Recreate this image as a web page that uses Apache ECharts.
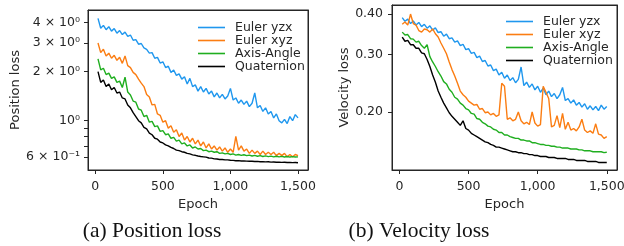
<!DOCTYPE html>
<html>
<head>
<meta charset="utf-8">
<script src="https://cdn.jsdelivr.net/npm/echarts@6/dist/echarts.min.js"></script>
<style>
  html, body { margin: 0; padding: 0; background: #fff; }
  #chart { width: 624px; height: 246px; }
</style>
</head>
<body>
<div id="chart"></div>
<script>
// epochs sampled every 20
const epochs = [20,40,60,80,100,120,140,160,180,200,220,240,260,280,300,320,340,360,380,400,
  420,440,460,480,500,520,540,560,580,600,620,640,660,680,700,720,740,760,780,800,
  820,840,860,880,900,920,940,960,980,1000,1020,1040,1060,1080,1100,1120,1140,1160,1180,1200,
  1220,1240,1260,1280,1300,1320,1340,1360,1380,1400,1420,1440,1460,1480,1500]

const names = ['Euler yzx', 'Euler xyz', 'Axis-Angle', 'Quaternion']

// (a) position loss
const posYzx = [4.25,3.7,3.85,3.62,3.78,3.55,3.68,3.45,3.58,3.38,
  3.5,3.3,3.36,3.12,3.15,2.95,2.98,2.8,2.74,2.6,
  2.62,2.42,2.45,2.26,2.3,2.12,2.16,1.98,2.05,1.9,
  1.94,1.8,1.86,1.68,1.82,1.62,1.66,1.52,1.62,1.5,
  1.58,1.46,1.52,1.4,1.48,1.38,1.45,1.36,1.42,1.58,
  1.34,1.38,1.28,1.34,1.26,1.32,1.22,1.28,1.48,1.2,
  1.24,1.14,1.2,1.1,1.14,1.04,1.1,1.0,0.97,1.02,
  0.96,1.06,1.0,1.09,1.04]
const posXyz = [3.0,2.62,2.75,2.5,2.6,2.42,2.52,2.35,2.45,2.25,
  2.5,2.18,2.12,1.98,1.92,1.8,1.7,1.62,1.45,1.4,
  1.25,1.26,1.1,1.08,0.98,1.0,0.9,0.93,0.85,0.88,
  0.8,0.84,0.76,0.8,0.74,0.78,0.72,0.76,0.7,0.74,
  0.68,0.72,0.67,0.7,0.66,0.69,0.65,0.68,0.64,0.67,
  0.64,0.8,0.66,0.7,0.65,0.67,0.63,0.66,0.63,0.65,
  0.62,0.65,0.62,0.64,0.62,0.64,0.61,0.63,0.61,0.63,
  0.6,0.62,0.6,0.62,0.61]
const posAxis = [2.4,2.05,2.1,1.92,1.96,1.82,1.86,1.72,1.75,1.6,
  1.85,1.5,1.44,1.32,1.3,1.18,1.16,1.06,1.08,0.98,
  0.99,0.92,0.93,0.86,0.87,0.82,0.83,0.78,0.79,0.75,
  0.76,0.72,0.73,0.7,0.71,0.68,0.69,0.67,0.675,0.655,
  0.66,0.645,0.65,0.64,0.645,0.63,0.635,0.625,0.63,0.62,
  0.625,0.615,0.62,0.612,0.618,0.61,0.615,0.607,0.612,0.605,
  0.61,0.603,0.608,0.602,0.606,0.6,0.605,0.6,0.604,0.599,
  0.603,0.598,0.602,0.598,0.6]
const posQuat = [2.0,1.72,1.78,1.62,1.68,1.55,1.6,1.48,1.5,1.38,
  1.36,1.25,1.2,1.12,1.06,1.0,0.97,0.91,0.89,0.84,
  0.82,0.78,0.77,0.74,0.73,0.71,0.7,0.685,0.675,0.66,
  0.655,0.645,0.64,0.63,0.625,0.617,0.613,0.607,0.603,0.6,
  0.597,0.59,0.589,0.583,0.582,0.578,0.578,0.575,0.575,0.572,
  0.571,0.568,0.569,0.566,0.566,0.565,0.564,0.564,0.562,0.563,
  0.56,0.561,0.559,0.56,0.557,0.558,0.556,0.557,0.555,0.556,
  0.554,0.555,0.553,0.554,0.552]

// (b) velocity loss
const velYzx = [0.39,0.38,0.386,0.374,0.381,0.37,0.377,0.366,0.372,0.362,
  0.368,0.357,0.363,0.351,0.353,0.342,0.347,0.336,0.338,0.328,
  0.331,0.32,0.323,0.311,0.313,0.303,0.305,0.294,0.297,0.286,
  0.288,0.277,0.279,0.268,0.271,0.26,0.265,0.254,0.26,0.25,
  0.255,0.246,0.252,0.275,0.241,0.247,0.238,0.244,0.234,0.24,
  0.23,0.237,0.226,0.232,0.223,0.228,0.22,0.226,0.238,0.217,
  0.22,0.213,0.218,0.21,0.214,0.207,0.212,0.204,0.209,0.203,
  0.208,0.202,0.21,0.204,0.208]
const velXyz = [0.372,0.378,0.37,0.4,0.374,0.37,0.356,0.352,0.36,0.358,
  0.352,0.36,0.348,0.34,0.326,0.314,0.302,0.285,0.27,0.258,
  0.245,0.232,0.226,0.222,0.216,0.213,0.21,0.211,0.204,0.205,
  0.199,0.2,0.196,0.198,0.194,0.196,0.245,0.24,0.19,0.192,
  0.188,0.19,0.2,0.188,0.184,0.186,0.183,0.2,0.185,0.181,
  0.183,0.24,0.23,0.22,0.18,0.182,0.195,0.179,0.198,0.177,
  0.186,0.176,0.178,0.175,0.18,0.19,0.176,0.173,0.175,0.172,
  0.184,0.171,0.17,0.166,0.168]
const velAxis = [0.352,0.345,0.346,0.336,0.335,0.328,0.33,0.32,0.314,0.322,
  0.296,0.285,0.276,0.266,0.258,0.248,0.244,0.235,0.23,0.222,
  0.219,0.213,0.21,0.205,0.203,0.198,0.197,0.191,0.19,0.186,
  0.184,0.181,0.18,0.177,0.176,0.173,0.173,0.17,0.17,0.168,
  0.167,0.166,0.166,0.164,0.164,0.163,0.163,0.161,0.161,0.16,
  0.159,0.159,0.158,0.158,0.157,0.157,0.156,0.156,0.155,0.155,
  0.155,0.154,0.154,0.154,0.153,0.153,0.152,0.152,0.152,0.151,
  0.151,0.151,0.151,0.15,0.1505]
const velQuat = [0.34,0.33,0.332,0.322,0.322,0.314,0.314,0.304,0.302,0.29,
  0.276,0.26,0.247,0.232,0.222,0.213,0.206,0.199,0.194,0.19,
  0.186,0.182,0.188,0.178,0.176,0.172,0.17,0.168,0.166,0.164,
  0.162,0.161,0.159,0.158,0.156,0.156,0.155,0.154,0.153,0.152,
  0.151,0.151,0.15,0.15,0.149,0.149,0.148,0.148,0.147,0.147,
  0.146,0.146,0.146,0.145,0.145,0.145,0.144,0.144,0.144,0.144,
  0.143,0.143,0.143,0.142,0.142,0.142,0.142,0.141,0.141,0.141,
  0.141,0.14,0.14,0.14,0.14]

const xTicks = [0, 500, 1000, 1500]
const posTicks = [0.6, 1, 2, 3, 4]
const posTickLabels = ['6 × 10⁻¹', '10⁰', '2 × 10⁰', '3 × 10⁰', '4 × 10⁰']
const posMinorTicks = [0.7, 0.8, 0.9]
const velTicks = [0.2, 0.3, 0.4]
const velTickLabels = ['0.20', '0.30', '0.40']

const colors = ['#1f97ee', '#fb7d12', '#1fae1f', '#000000']
const axisColor = '#262626'
const textColor = '#262626'
const font = 'DejaVu Sans'

function pairs(vals) {
  return epochs.map((e, i) => [e, vals[i]])
}

function labelFor(ticks, labels) {
  return function(v) {
    const i = ticks.findIndex(t => Math.abs(t - v) < 1e-6)
    return i >= 0 ? labels[i] : ''
  }
}

function xAxis(gridIndex) {
  return {
    gridIndex: gridIndex,
    type: 'value',
    min: -54,
    max: 1574,
    name: 'Epoch',
    nameLocation: 'middle',
    nameGap: 25,
    nameTextStyle: { fontFamily: font, fontSize: 13, color: textColor },
    axisLine: { show: true, onZero: false, lineStyle: { color: axisColor, width: 1 } },
    axisTick: { show: true, length: 4, customValues: xTicks, lineStyle: { color: axisColor } },
    axisLabel: { customValues: xTicks, margin: 10, fontFamily: font, fontSize: 12.5, color: textColor },
    splitLine: { show: false }
  }
}

// plain line on the far side of the frame
function frameAxis(gridIndex, position) {
  return {
    gridIndex: gridIndex,
    position: position,
    type: 'value',
    min: 0,
    max: 1,
    axisLine: { show: true, onZero: false, lineStyle: { color: axisColor, width: 1 } },
    axisTick: { show: false },
    axisLabel: { formatter: () => '' },
    splitLine: { show: false }
  }
}

function legend(left, top, lh) {
  return {
    data: names,
    orient: 'vertical',
    left: left,
    top: top,
    itemGap: 0,
    itemWidth: 27,
    itemHeight: 1.6,
    icon: 'rect',
    textStyle: { fontFamily: font, fontSize: 12.5, color: textColor, lineHeight: lh, padding: [0, 0, 0, 5] },
    selectedMode: false
  }
}

const series = []
;[[posYzx, posXyz, posAxis, posQuat], [velYzx, velXyz, velAxis, velQuat]].forEach((group, g) => {
  group.forEach((vals, k) => {
    series.push({
      name: names[k],
      type: 'line',
      xAxisIndex: g,
      yAxisIndex: g,
      data: pairs(vals),
      showSymbol: false,
      symbol: 'none',
      color: colors[k],
      lineStyle: { width: 1.4, color: colors[k] },
      z: 2 + k
    })
  })
})

const captionStyle = { fontFamily: 'Liberation Serif', fontSize: 21.5, fontWeight: 'normal', color: '#111' }

const chart = echarts.init(document.getElementById('chart'), null, { renderer: 'canvas' })
chart.setOption({
  animation: false,
  backgroundColor: '#ffffff',
  title: [
    { text: '(a) Position loss', left: 152, top: 220, padding: 0, textAlign: 'center', textStyle: captionStyle },
    { text: '(b) Velocity loss', left: 419, top: 220, padding: 0, textAlign: 'center', textStyle: captionStyle }
  ],
  legend: [legend(193, 16, 12.5), legend(501, 10, 13)],
  grid: [
    { left: 88, top: 10, width: 220, height: 160, outerBoundsMode: 'none', containLabel: false,
      show: true, borderColor: axisColor, borderWidth: 1 },
    { left: 392, top: 5, width: 225, height: 165, outerBoundsMode: 'none', containLabel: false,
      show: true, borderColor: axisColor, borderWidth: 1 }
  ],
  xAxis: [xAxis(0), xAxis(1), frameAxis(0, 'top'), frameAxis(1, 'top')],
  yAxis: [
    {
      gridIndex: 0,
      type: 'log',
      logBase: 10,
      min: 0.498,
      max: 4.786,
      name: 'Position loss',
      nameLocation: 'middle',
      nameGap: 66,
      nameTextStyle: { fontFamily: font, fontSize: 13, color: textColor },
      axisLine: { show: true, onZero: false, lineStyle: { color: axisColor, width: 1 } },
      axisTick: { show: true, length: 4, customValues: posTicks.concat(posMinorTicks), lineStyle: { color: axisColor } },
      axisLabel: { customValues: posTicks, formatter: labelFor(posTicks, posTickLabels), margin: 8,
        fontFamily: font, fontSize: 12.5, color: textColor },
      splitLine: { show: false },
      minorTick: { show: false }
    },
    {
      gridIndex: 1,
      type: 'log',
      logBase: 10,
      min: 0.1327,
      max: 0.4265,
      name: 'Velocity loss',
      nameLocation: 'middle',
      nameGap: 41,
      nameTextStyle: { fontFamily: font, fontSize: 13, color: textColor },
      axisLine: { show: true, onZero: false, lineStyle: { color: axisColor, width: 1 } },
      axisTick: { show: true, length: 4, customValues: velTicks, lineStyle: { color: axisColor } },
      axisLabel: { customValues: velTicks, formatter: labelFor(velTicks, velTickLabels), margin: 9,
        fontFamily: font, fontSize: 12.5, color: textColor },
      splitLine: { show: false }
    },
    frameAxis(0, 'right'),
    frameAxis(1, 'right')
  ],
  series: series
})
</script>
</body>
</html>
